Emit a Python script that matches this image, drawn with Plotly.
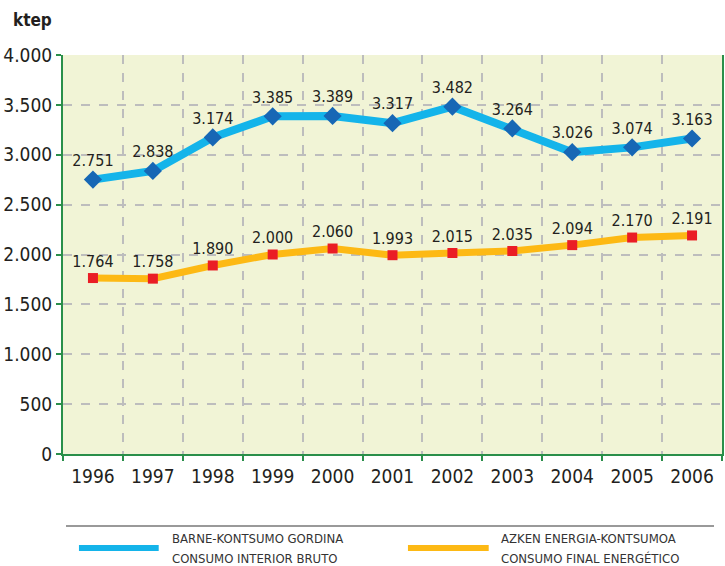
import plotly.graph_objects as go

years = ["1996", "1997", "1998", "1999", "2000", "2001", "2002", "2003", "2004", "2005", "2006"]
gross_inland = [2751, 2838, 3174, 3385, 3389, 3317, 3482, 3264, 3026, 3074, 3163]
final_energy = [1764, 1758, 1890, 2000, 2060, 1993, 2015, 2035, 2094, 2170, 2191]
y_ticks = [0, 500, 1000, 1500, 2000, 2500, 3000, 3500, 4000]
legend_names = [["BARNE-KONTSUMO GORDINA", "CONSUMO INTERIOR BRUTO"],
                ["AZKEN ENERGIA-KONTSUMOA", "CONSUMO FINAL ENERGÉTICO"]]

W, H = 725, 566
L, R, T, B = 63, 724, 55, 454
FONT = "DejaVu Sans Condensed, Liberation Sans Narrow, sans-serif"

def px(x):
    return (x - L) / (R - L)

def py(y):
    return (B - y) / (B - T)

def fmt(v):
    return f"{v:,}".replace(",", ".")

BLUE_LINE = "#14b4ea"
BLUE_MARK = "#1767b5"
ORANGE_LINE = "#fdb914"
RED_MARK = "#ea1d25"
GREEN = "#2a8f4a"
TXT = "#231f20"

fig = go.Figure()
fig.add_trace(go.Scatter(
    x=years, y=gross_inland, mode="lines+markers+text",
    line=dict(color=BLUE_LINE, width=8),
    marker=dict(symbol="diamond", size=14, color=BLUE_MARK),
    text=[fmt(v) for v in gross_inland], textposition="top center",
    textfont=dict(family=FONT, size=16, color=TXT),
    showlegend=False, cliponaxis=False))
fig.add_trace(go.Scatter(
    x=years, y=final_energy, mode="lines+markers+text",
    line=dict(color=ORANGE_LINE, width=7),
    marker=dict(symbol="square", size=10, color=RED_MARK),
    text=[fmt(v) for v in final_energy], textposition="top center",
    textfont=dict(family=FONT, size=16, color=TXT),
    showlegend=False, cliponaxis=False))

shapes = [
    dict(type="line", xref="paper", yref="paper", x0=px(66), x1=px(716), y0=py(526), y1=py(526),
         line=dict(color="#777", width=1.5)),
    dict(type="line", xref="paper", yref="paper", x0=px(79), x1=px(159), y0=py(548), y1=py(548),
         line=dict(color=BLUE_LINE, width=6)),
    dict(type="line", xref="paper", yref="paper", x0=px(409), x1=px(490), y0=py(548), y1=py(548),
         line=dict(color=ORANGE_LINE, width=6)),
]

annotations = [
    dict(text="<b>ktep</b>", xref="paper", yref="paper", x=px(11), y=py(20), xanchor="left",
         yanchor="middle", showarrow=False, font=dict(family=FONT, size=17, color=TXT)),
]
for (lx, names) in zip([170, 500], legend_names):
    for i, nm in enumerate(names):
        annotations.append(dict(text=nm, xref="paper", yref="paper", x=px(lx), y=py(538 + 20 * i),
                                xanchor="left", yanchor="middle", showarrow=False,
                                font=dict(family=FONT, size=13, color="#333")))

fig.update_layout(
    width=W, height=H,
    margin=dict(l=L, r=W - R, t=T, b=H - B),
    paper_bgcolor="white", plot_bgcolor="#f1f4d6",
    separators=",.",
    font=dict(family=FONT, color=TXT),
    shapes=shapes, annotations=annotations,
    xaxis=dict(type="category", tickson="boundaries", showgrid=True,
               gridcolor="#bdbdbd", griddash="dash", gridwidth=1.5,
               showline=True, linecolor=GREEN, linewidth=2,
               ticks="outside", ticklen=5, tickcolor=GREEN, tickwidth=2,
               ticklabelstandoff=4,
               tickfont=dict(family=FONT, size=19, color=TXT), range=[-0.5, 10.5]),
    yaxis=dict(range=[0, 4000], tickvals=y_ticks, tickformat=",d", showgrid=True,
               gridcolor="#bdbdbd", griddash="dash", gridwidth=1.5, zeroline=False,
               showline=True, mirror=True, linecolor=GREEN, linewidth=2,
               ticks="outside", ticklen=5, tickcolor=GREEN, tickwidth=2,
               tickfont=dict(family=FONT, size=19, color=TXT)),
)

fig.write_html("out.html", config={"displayModeBar": False},
               post_script="document.body.style.margin='0';document.body.style.overflow='hidden';")
